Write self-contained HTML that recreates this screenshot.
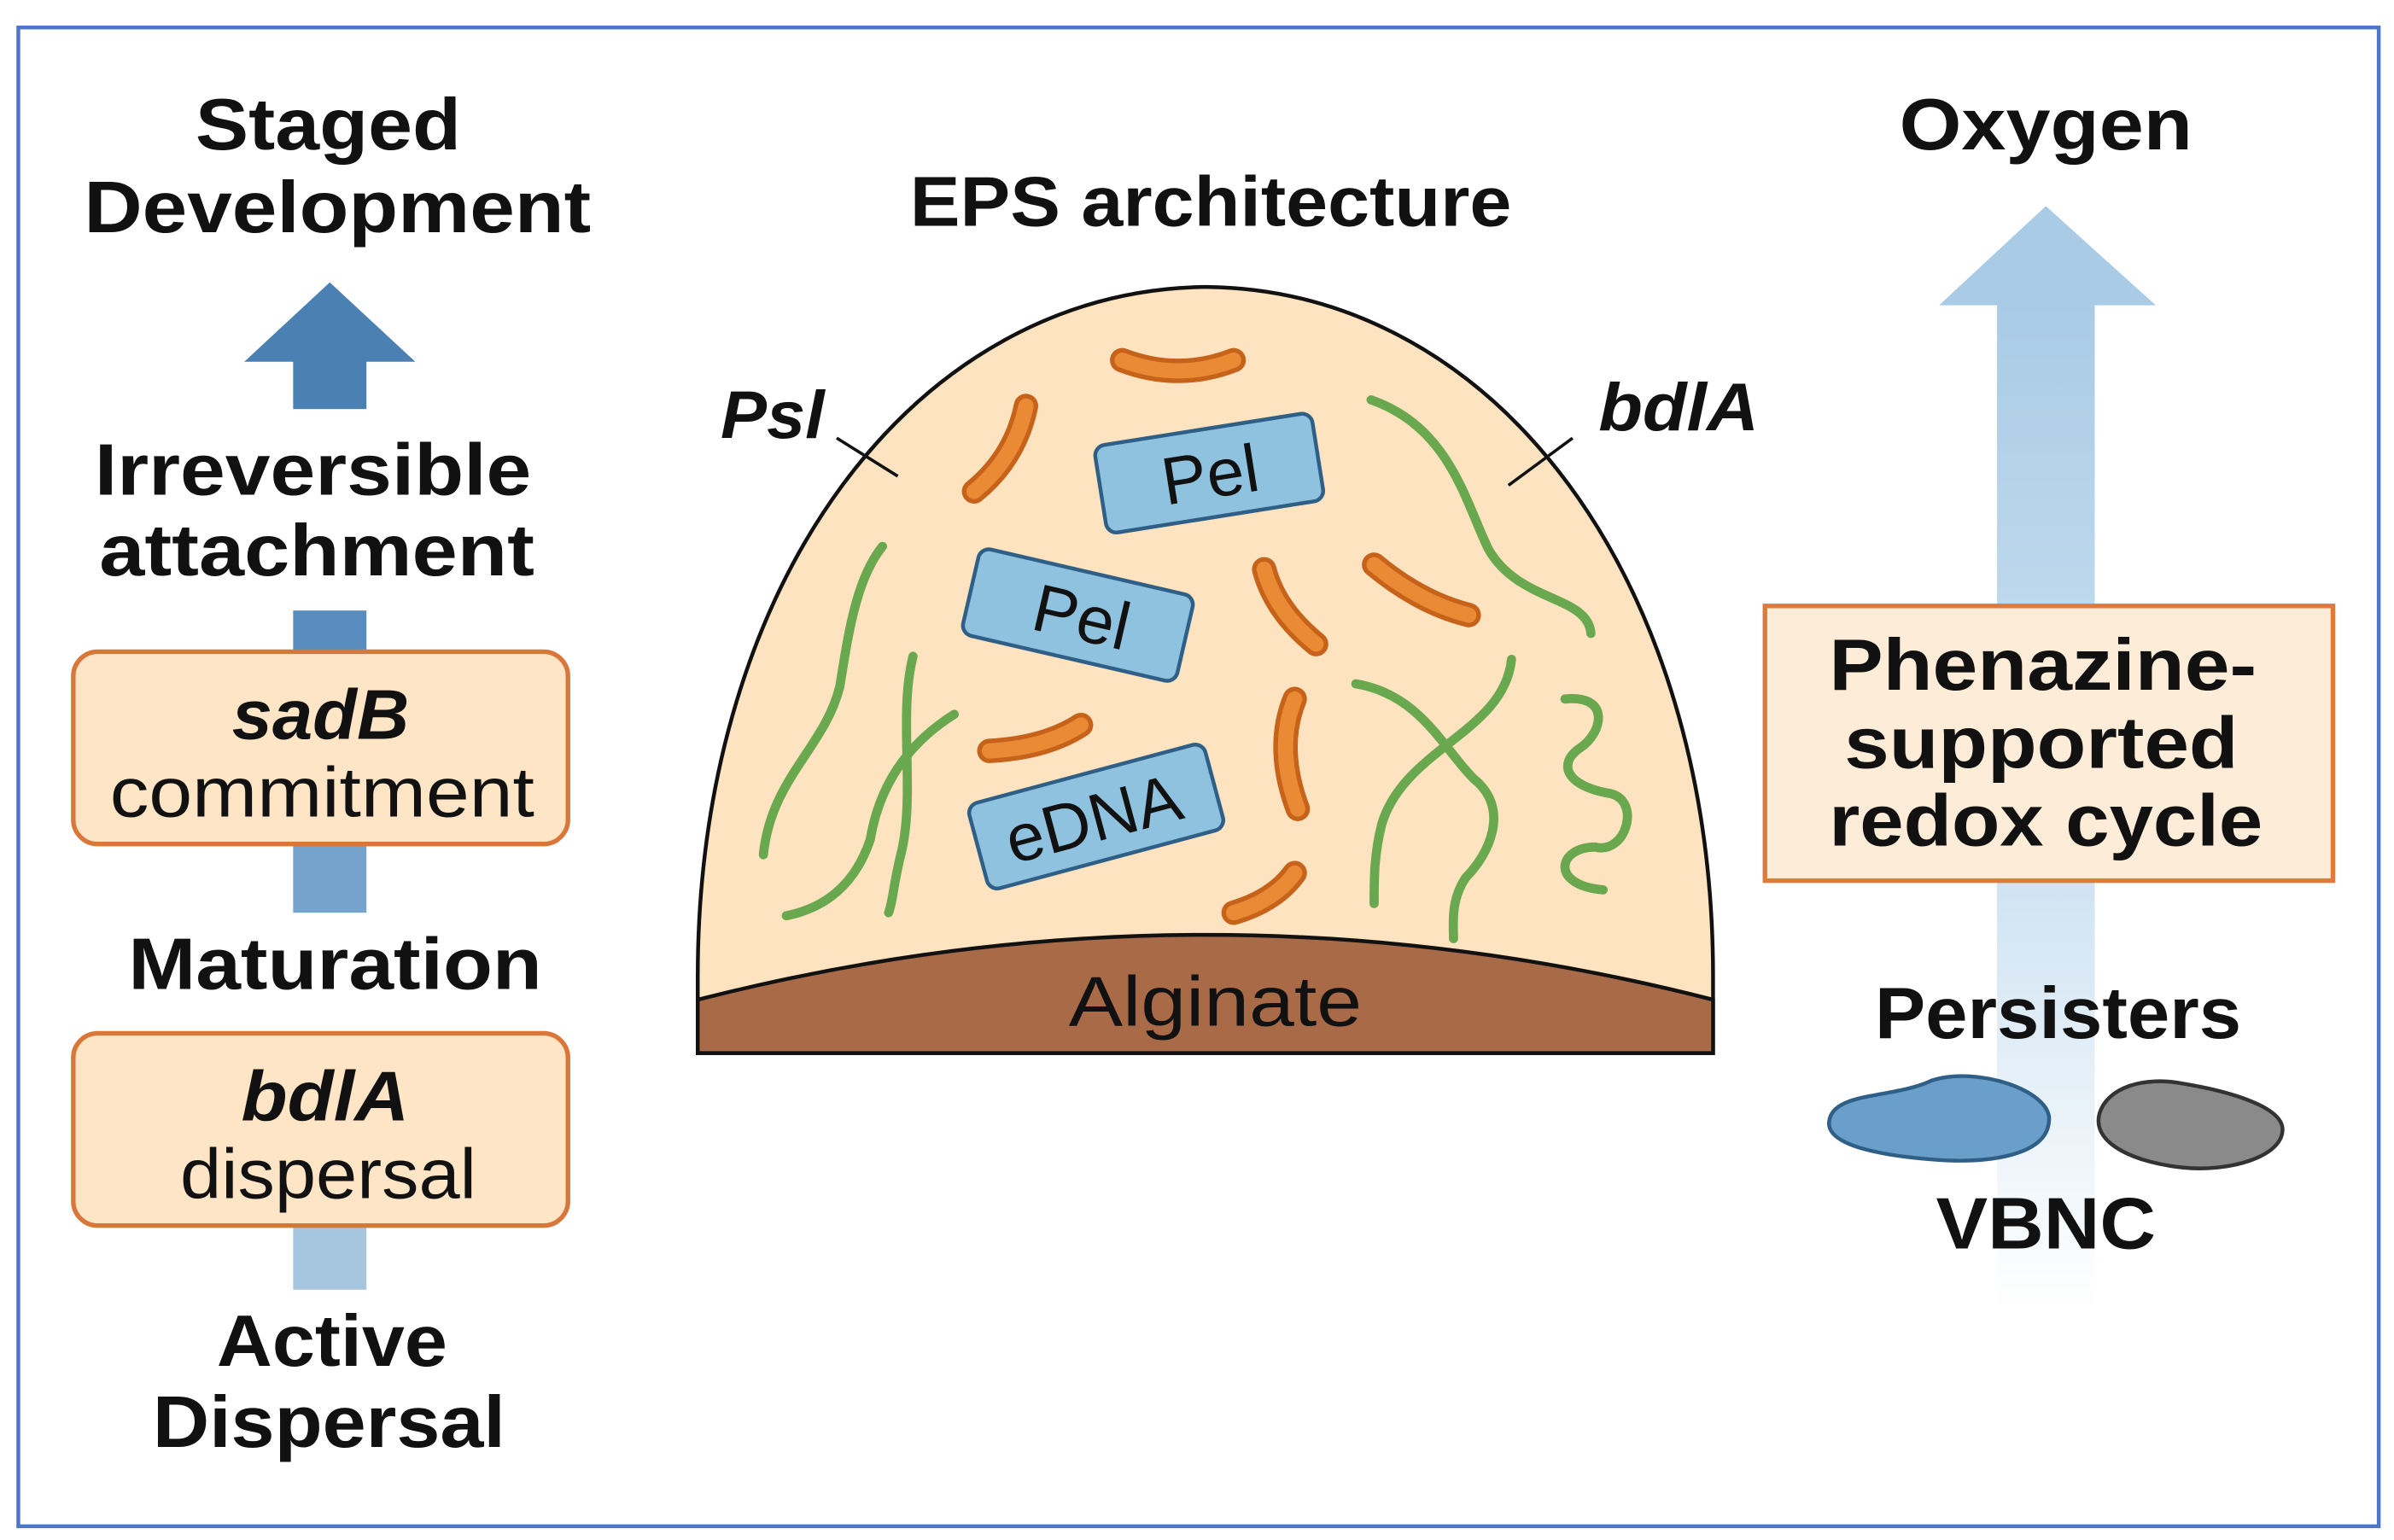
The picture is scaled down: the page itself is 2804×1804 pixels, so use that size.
<!DOCTYPE html>
<html><head><meta charset="utf-8"><style>
html,body{margin:0;padding:0;background:#fff;}
svg{display:block;}
text{font-family:"Liberation Sans",sans-serif;fill:#111;}
</style></head><body>
<svg width="2804" height="1804" viewBox="0 0 1568 1009" xmlns="http://www.w3.org/2000/svg" preserveAspectRatio="none">
<defs>
<linearGradient id="oxy" x1="0" y1="0" x2="0" y2="1">
<stop offset="0" stop-color="#a9cbe6"/><stop offset="0.6" stop-color="#d3e5f3"/><stop offset="1" stop-color="#ffffff"/>
</linearGradient>
</defs>
<rect x="0" y="0" width="1568" height="1009" fill="#fff"/>
<rect x="12" y="18" width="1546" height="982" fill="#fff" stroke="#4d76c8" stroke-width="2.5"/>

<!-- Left column -->
<g font-weight="bold" font-size="48" lengthAdjust="spacingAndGlyphs">
<text x="128" y="98" textLength="174" lengthAdjust="spacingAndGlyphs">Staged</text>
<text x="55" y="152" textLength="332" lengthAdjust="spacingAndGlyphs">Development</text>
<text x="62" y="324" textLength="286" lengthAdjust="spacingAndGlyphs">Irreversible</text>
<text x="65" y="377" textLength="285" lengthAdjust="spacingAndGlyphs">attachment</text>
<text x="84" y="648" textLength="271" lengthAdjust="spacingAndGlyphs">Maturation</text>
<text x="142" y="895" textLength="151" lengthAdjust="spacingAndGlyphs">Active</text>
<text x="100" y="948" textLength="231" lengthAdjust="spacingAndGlyphs">Dispersal</text>
</g>
<polygon points="160,237 272,237 216,185" fill="#4a80b2"/>
<rect x="192" y="236" width="48" height="32" fill="#4a80b2"/>
<rect x="192" y="400" width="48" height="28" fill="#5a8dbf"/>
<rect x="192" y="553" width="48" height="45" fill="#76a3cc"/>
<rect x="192" y="803" width="48" height="42" fill="#a6c6e0"/>
<rect x="48" y="427" width="324" height="126" rx="16" fill="#fde5c6" stroke="#d9773a" stroke-width="3"/>
<rect x="48" y="677" width="324" height="126" rx="16" fill="#fde5c6" stroke="#d9773a" stroke-width="3"/>
<g font-size="46">
<text x="152" y="484" font-style="italic" font-weight="bold" textLength="116" lengthAdjust="spacingAndGlyphs">sadB</text>
<text x="72" y="535" textLength="278" lengthAdjust="spacingAndGlyphs">commitment</text>
<text x="158" y="734" font-style="italic" font-weight="bold" textLength="110" lengthAdjust="spacingAndGlyphs">bdlA</text>
<text x="118" y="785" textLength="194" lengthAdjust="spacingAndGlyphs">dispersal</text>
</g>

<!-- Middle -->
<text x="596" y="148" font-size="46" font-weight="bold" textLength="394" lengthAdjust="spacingAndGlyphs">EPS architecture</text>
<path d="M457,690 L457,640 C457,380 600,190 790,188 C980,190 1122,380 1122,640 L1122,690 Z" fill="#fde3bf" stroke="#111" stroke-width="2.5"/>
<path d="M457,655 Q790,570 1122,655 L1122,690 L457,690 Z" fill="#a96a48" stroke="#111" stroke-width="2.5"/>
<text x="700" y="672" font-size="46" textLength="192" lengthAdjust="spacingAndGlyphs">Alginate</text>
<text x="472" y="287" font-size="44" font-style="italic" font-weight="bold" textLength="68" lengthAdjust="spacingAndGlyphs">Psl</text>
<line x1="548" y1="287" x2="588" y2="312" stroke="#111" stroke-width="2"/>
<text x="1047" y="282" font-size="44" font-style="italic" font-weight="bold" textLength="105" lengthAdjust="spacingAndGlyphs">bdlA</text>
<line x1="1030" y1="287" x2="988" y2="318" stroke="#111" stroke-width="2"/>

<!-- green strands -->
<g fill="none" stroke="#6aa84f" stroke-width="6" stroke-linecap="round">
<path d="M898,262 C950,280 960,330 975,360 C995,395 1040,390 1042,415"/>
<path d="M578,358 C560,380 555,420 550,450 C540,490 505,510 500,560"/>
<path d="M598,430 C588,470 600,520 590,560 C585,580 585,590 582,598"/>
<path d="M625,468 C590,490 575,520 570,550 C560,580 540,595 515,600"/>
<path d="M888,448 C930,455 945,490 965,510 C990,530 975,560 960,575 C950,590 952,605 952,615"/>
<path d="M990,432 C985,480 920,490 905,540 C900,560 900,575 900,592"/>
<path d="M1025,458 C1055,455 1050,480 1035,490 C1020,500 1025,515 1055,520 C1075,525 1065,560 1045,555 C1020,555 1015,580 1050,583"/>
</g>
<!-- orange rods -->
<g fill="none" stroke-linecap="round">
<g stroke="#c6621a" stroke-width="16">
<path d="M735,236 Q772,250 808,236"/>
<path d="M672,266 Q665,300 638,322"/>
<path d="M828,373 Q835,400 862,422"/>
<path d="M900,370 Q930,395 962,403"/>
<path d="M648,492 Q685,490 708,475"/>
<path d="M848,458 Q835,490 850,530"/>
<path d="M808,598 Q835,590 848,572"/>
</g>
<g stroke="#ea8a34" stroke-width="10">
<path d="M735,236 Q772,250 808,236"/>
<path d="M672,266 Q665,300 638,322"/>
<path d="M828,373 Q835,400 862,422"/>
<path d="M900,370 Q930,395 962,403"/>
<path d="M648,492 Q685,490 708,475"/>
<path d="M848,458 Q835,490 850,530"/>
<path d="M808,598 Q835,590 848,572"/>
</g>
</g>
<!-- blue boxes -->
<g fill="#8fc2df" stroke="#2f5f86" stroke-width="2.5">
<rect x="-72" y="-29" width="144" height="58" rx="7" transform="translate(792,310) rotate(-9)"/>
<rect x="-72" y="-29" width="144" height="58" rx="7" transform="translate(706,403) rotate(13)"/>
<rect x="-80" y="-29" width="160" height="58" rx="7" transform="translate(718,535) rotate(-15)"/>
</g>
<g font-size="44" text-anchor="middle">
<text transform="translate(795,326) rotate(-9)">Pel</text>
<text transform="translate(705,419) rotate(13)">Pel</text>
<text transform="translate(720,551) rotate(-15)">eDNA</text>
</g>

<!-- Right -->
<text x="1244" y="98" font-size="48" font-weight="bold" textLength="192" lengthAdjust="spacingAndGlyphs">Oxygen</text>
<polygon points="1270,200 1412,200 1340,135" fill="#a9cbe6"/>
<rect x="1308" y="199" width="64" height="660" fill="url(#oxy)"/>
<rect x="1156" y="397" width="372" height="180" fill="#fdecd7" stroke="#e07a3a" stroke-width="3"/>
<g font-size="48" font-weight="bold">
<text x="1198" y="452" textLength="280" lengthAdjust="spacingAndGlyphs">Phenazine-</text>
<text x="1208" y="503" textLength="258" lengthAdjust="spacingAndGlyphs">supported</text>
<text x="1198" y="554" textLength="284" lengthAdjust="spacingAndGlyphs">redox cycle</text>
<text x="1228" y="680" textLength="240" lengthAdjust="spacingAndGlyphs">Persisters</text>
<text x="1268" y="818" textLength="144" lengthAdjust="spacingAndGlyphs">VBNC</text>
</g>
<path d="M1198,735 C1200,715 1240,720 1265,708 C1295,698 1345,715 1342,735 C1340,758 1300,762 1270,760 C1240,758 1196,752 1198,735 Z" fill="#6b9fcb" stroke="#2f5f86" stroke-width="2.5"/>
<path d="M1375,730 C1380,712 1405,705 1430,710 C1460,715 1495,725 1495,740 C1495,758 1460,768 1430,765 C1400,762 1370,750 1375,730 Z" fill="#8a8a8a" stroke="#333" stroke-width="2.5"/>
</svg>
</body></html>
